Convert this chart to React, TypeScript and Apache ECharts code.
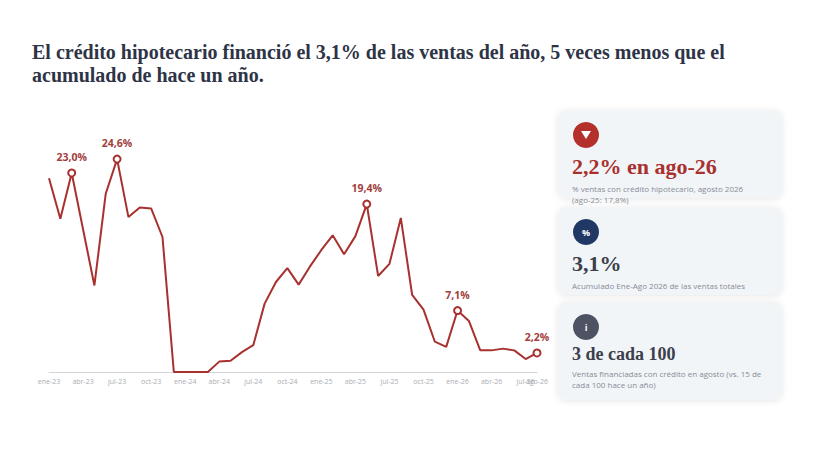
import { useEffect, useRef } from "react";
import * as echarts from "echarts";

const categories = [
  "ene-23", "feb-23", "mar-23", "abr-23", "may-23", "jun-23", "jul-23", "ago-23", "sep-23", "oct-23", "nov-23", "dic-23",
  "ene-24", "feb-24", "mar-24", "abr-24", "may-24", "jun-24", "jul-24", "ago-24", "sep-24", "oct-24", "nov-24", "dic-24",
  "ene-25", "feb-25", "mar-25", "abr-25", "may-25", "jun-25", "jul-25", "ago-25", "sep-25", "oct-25", "nov-25", "dic-25",
  "ene-26", "feb-26", "mar-26", "abr-26", "may-26", "jun-26", "jul-26", "ago-26",
];

// % de ventas con crédito hipotecario
const shareValues = [
  22.4, 17.7, 23.0, 16.5, 10.0, 20.6, 24.6, 17.9, 19.0, 18.9, 15.6, 0,
  0, 0, 0, 1.2, 1.3, 2.3, 3.1, 7.9, 10.4, 12.0, 10.1, 12.2,
  14.1, 15.8, 13.6, 15.7, 19.4, 11.1, 12.5, 17.8, 8.9, 7.2, 3.5, 2.9,
  7.1, 5.9, 2.5, 2.5, 2.7, 2.5, 1.5, 2.2,
];

// puntos marcados con etiqueta
const highlighted = [2, 6, 28, 36, 43];

const titleText =
  "El crédito hipotecario financió el 3,1% de las ventas del año, 5 veces menos que el\nacumulado de hace un año.";

const cardHeadlines = ["2,2% en ago-26", "3,1%", "3 de cada 100"];
const cardNotes = [
  "% ventas con crédito hipotecario, agosto 2026\n(ago-25: 17,8%)",
  "Acumulado Ene-Ago 2026 de las ventas totales",
  "Ventas financiadas con crédito en agosto (vs. 15 de\ncada 100 hace un año)",
];
const cardIcons = ["▼", "%", "i"];
const cardIconColors = ["#b3302b", "#1f3864", "#4d5362"];
const cardHeadColors = ["#a8312f", "#3b404b", "#3b404b"];

const RED = "#a8312f";
const fmt = (v: number) => v.toFixed(1).replace(".", ",") + "%";
const lastIdx = categories.length - 1;

function card(i: number, top: number, height: number, headY: number, noteY: number): any {
  const cx = 586;
  const cy = top + 25;
  const children: any[] = [
    {
      type: "rect",
      shape: { x: 558, y: top, width: 224, height, r: 8 },
      style: {
        fill: "#f2f5f8",
        shadowBlur: 6,
        shadowColor: "rgba(0,0,0,0.10)",
        shadowOffsetY: 1,
      },
    },
    {
      type: "circle",
      shape: { cx, cy, r: 13 },
      style: { fill: cardIconColors[i] },
    },
  ];
  if (i === 0) {
    children.push({
      type: "polygon",
      shape: { points: [[581, cy - 4], [591, cy - 4], [586, cy + 4]] },
      style: { fill: "#ffffff" },
    });
  } else {
    children.push({
      type: "text",
      x: cx,
      y: cy,
      style: {
        text: cardIcons[i],
        fill: "#ffffff",
        font: "bold 9px 'Open Sans'",
        align: "center",
        verticalAlign: "middle",
      },
    });
  }
  children.push({
    type: "text",
    x: 572,
    y: top + headY,
    style: {
      text: cardHeadlines[i],
      fill: cardHeadColors[i],
      font: i === 2 ? "bold 18px 'Liberation Serif'" : "bold 22px 'Liberation Serif'",
      align: "left",
      verticalAlign: "middle",
    },
  });
  children.push({
    type: "text",
    x: 572,
    y: top + noteY,
    style: {
      text: cardNotes[i],
      fill: "#868c96",
      font: "8px 'Open Sans'",
      lineHeight: 11,
      align: "left",
      verticalAlign: "top",
    },
  });
  return { type: "group", children };
}

const axisLabelStyle = {
  color: "#a9adb3",
  fontSize: 7,
  fontFamily: "Open Sans",
  margin: 6,
};

export default function App() {
  const chartRef = useRef<HTMLDivElement>(null);

  useEffect(() => {
    const myChart = echarts.init(chartRef.current!, null, { renderer: "svg" });

    const option = {
      animation: false,
      backgroundColor: "#ffffff",
      grid: { left: 49, right: 282, top: 147, bottom: 88 },
      xAxis: [
        {
          type: "category",
          position: "bottom",
          data: categories,
          boundaryGap: false,
          axisLine: { lineStyle: { color: "#d3d7dd", width: 1 } },
          axisTick: { show: false },
          axisLabel: {
            ...axisLabelStyle,
            interval: (idx: number) => idx % 3 === 0,
          },
        },
        {
          // segunda capa solo para la etiqueta final (se solapa con jul-26)
          type: "category",
          position: "bottom",
          data: categories,
          boundaryGap: false,
          axisLine: { show: false },
          axisTick: { show: false },
          splitLine: { show: false },
          axisLabel: {
            ...axisLabelStyle,
            interval: (idx: number) => idx === lastIdx,
            showMinLabel: false,
          },
        },
      ],
      yAxis: {
        type: "value",
        min: 0,
        max: 26,
        show: false,
        splitLine: { show: false },
      },
      series: [
        {
          type: "line",
          xAxisIndex: 0,
          showSymbol: true,
          symbol: (_v: any, p: any) => (highlighted.includes(p.dataIndex) ? "emptyCircle" : "none"),
          symbolSize: 7,
          lineStyle: { color: RED, width: 2 },
          itemStyle: { color: RED, borderColor: RED, borderWidth: 1.6 },
          data: shareValues.map((v, i) =>
            highlighted.includes(i)
              ? {
                  value: v,
                  label: {
                    show: true,
                    position: "top",
                    distance: 6,
                    formatter: fmt(v),
                    color: "#a23e3c",
                    fontSize: 10.5,
                    fontWeight: "bold",
                    fontFamily: "Open Sans",
                  },
                }
              : v
          ),
        },
      ],
      graphic: [
        {
          type: "text",
          x: 32,
          y: 40,
          style: {
            text: titleText,
            fill: "#2e3446",
            font: "bold 20px 'Liberation Serif'",
            lineHeight: 23,
            align: "left",
            verticalAlign: "top",
          },
        },
        card(0, 110, 88, 56, 73),
        card(1, 207, 88, 56, 73),
        card(2, 302, 98, 52, 66),
      ],
    };

    myChart.setOption(option);

    return () => {
      myChart.dispose();
    };
  }, []);

  return (
    <div
      ref={chartRef}
      style={{ position: "fixed", left: 0, top: 0, width: "819px", height: "460px" }}
    />
  );
}
